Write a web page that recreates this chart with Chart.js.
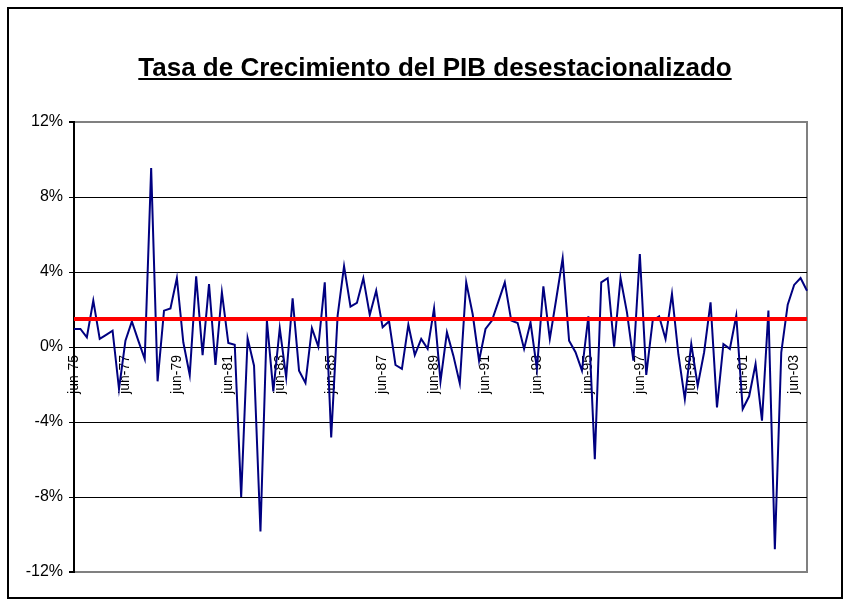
<!DOCTYPE html>
<html>
<head>
<meta charset="utf-8">
<script src="https://cdn.jsdelivr.net/npm/chart.js@4"></script>
<style>
  html, body { margin: 0; padding: 0; background: #fff; }
  #wrap { position: relative; width: 850px; height: 604px; overflow: hidden; }
  #c { position: absolute; left: 0; top: 0; }
  #frame { position: absolute; left: 7px; top: 7px; width: 832px; height: 588px; border: 2px solid #000; pointer-events: none; }
  #title { position: absolute; left: 0; top: 52px; width: 870px; text-align: center;
           font: bold 26px "Liberation Sans", Arial, sans-serif; line-height: 30px;
           text-decoration: underline; color: #000; }
</style>
</head>
<body>
<div id="wrap">
  <canvas id="c" width="850" height="604"></canvas>
  <div id="frame"></div>
  <div id="title">Tasa de Crecimiento del PIB desestacionalizado</div>
</div>
<script>
// Quarterly categories jun-75 ... dic-03
const monthNames = ['mar', 'jun', 'sep', 'dic'];
const categories = [];
for (let i = 0; i < 115; i++) {
  const q = (i + 1) % 4;
  const y = 1975 + Math.floor((i + 1) / 4);
  categories.push(monthNames[q] + '-' + String(y % 100).padStart(2, '0'));
}

// Growth rate (%)
const growth = [
  0.96, 0.96, 0.52, 2.47, 0.43, 0.65, 0.87, -2.24, 0.34, 1.37,
  0.34, -0.64, 9.54, -1.83, 1.94, 2.06, 3.68, 0.25, -1.49, 3.77,
  -0.43, 3.35, -0.96, 2.92, 0.21, 0.12, -8.0, 0.46, -1.0, -9.84,
  1.41, -2.37, 1.0, -1.62, 2.6, -1.26, -1.92, 1.0, 0.02, 3.45,
  -4.82, 1.67, 4.31, 2.15, 2.35, 3.67, 1.71, 3.0, 1.05, 1.37,
  -0.96, -1.17, 1.19, -0.43, 0.43, -0.1, 2.06, -1.83, 0.78, -0.46,
  -1.94, 3.45, 1.76, -0.73, 0.96, 1.41, 2.42, 3.45, 1.41, 1.28,
  -0.1, 1.32, -1.17, 3.24, 0.43, 2.56, 4.73, 0.34, -0.28, -1.26,
  1.64, -5.98, 3.45, 3.67, 0.02, 3.68, 1.85, -0.73, 4.96, -1.49,
  1.41, 1.64, 0.43, 2.83, -0.4, -2.78, 0.16, -2.06, -0.28, 2.38,
  -3.22, 0.16, -0.1, 1.67, -3.31, -2.63, -0.91, -3.93, 1.94, -10.78,
  -0.28, 2.26, 3.31, 3.68, 3.0
];

// Average growth (red reference line)
const meanValue = 1.5;
const meanLine = categories.map(() => meanValue);

// Y ticks
const yMin = -12, yMax = 12, yStep = 4;
const labelEvery = 8;

Chart.defaults.font.family = '"Liberation Sans", Arial, sans-serif';
Chart.defaults.color = '#000';

const plotFrame = {
  id: 'plotFrame',
  beforeDraw(chart) {
    const a = chart.chartArea, ctx = chart.ctx;
    ctx.save();
    ctx.fillStyle = '#fff';
    ctx.fillRect(a.left, a.top, a.right - a.left, a.bottom - a.top);
    ctx.strokeStyle = '#808080';
    ctx.lineWidth = 2;
    ctx.strokeRect(a.left, a.top, a.right - a.left, a.bottom - a.top);
    ctx.restore();
  }
};

new Chart(document.getElementById('c'), {
  type: 'line',
  data: {
    labels: categories,
    datasets: [
      { label: 'Media', data: meanLine, borderColor: '#FF0000', borderWidth: 4,
        pointRadius: 0, tension: 0, fill: false, order: 0 },
      { label: 'Tasa de crecimiento', data: growth, borderColor: '#000080', borderWidth: 2,
        pointRadius: 0, tension: 0, fill: false, order: 1 }
    ]
  },
  options: {
    responsive: false,
    animation: false,
    events: [],
    layout: { padding: { top: 122, left: 0, right: 43, bottom: 32 } },
    plugins: { legend: { display: false }, tooltip: { enabled: false }, title: { display: false } },
    scales: {
      x: {
        type: 'category',
        position: { y: 0 },
        offset: false,
        grid: { display: false, drawTicks: false },
        border: { display: false },
        ticks: {
          autoSkip: false, minRotation: 90, maxRotation: 90, padding: 8,
          font: { size: 14 },
          callback: function (v, i) { return i % labelEvery === 0 ? this.getLabelForValue(v) : null; }
        },
        afterFit: (s) => { s.height = 0; }
      },
      y: {
        min: yMin, max: yMax,
        grid: {
          color: (ctx) => (ctx.tick && (ctx.tick.value === yMax || ctx.tick.value === yMin)) ? '#808080' : '#000',
          lineWidth: (ctx) => (ctx.tick && (ctx.tick.value === yMax || ctx.tick.value === yMin)) ? 2 : 1,
          tickColor: '#000', tickLength: 5, drawTicks: true
        },
        border: { display: true, color: '#000', width: 2 },
        ticks: {
          stepSize: yStep, padding: 6, font: { size: 16 },
          callback: (v) => v + '%'
        },
        afterFit: (s) => { s.width = 74; }
      }
    }
  },
  plugins: [plotFrame]
});
</script>
</body>
</html>
